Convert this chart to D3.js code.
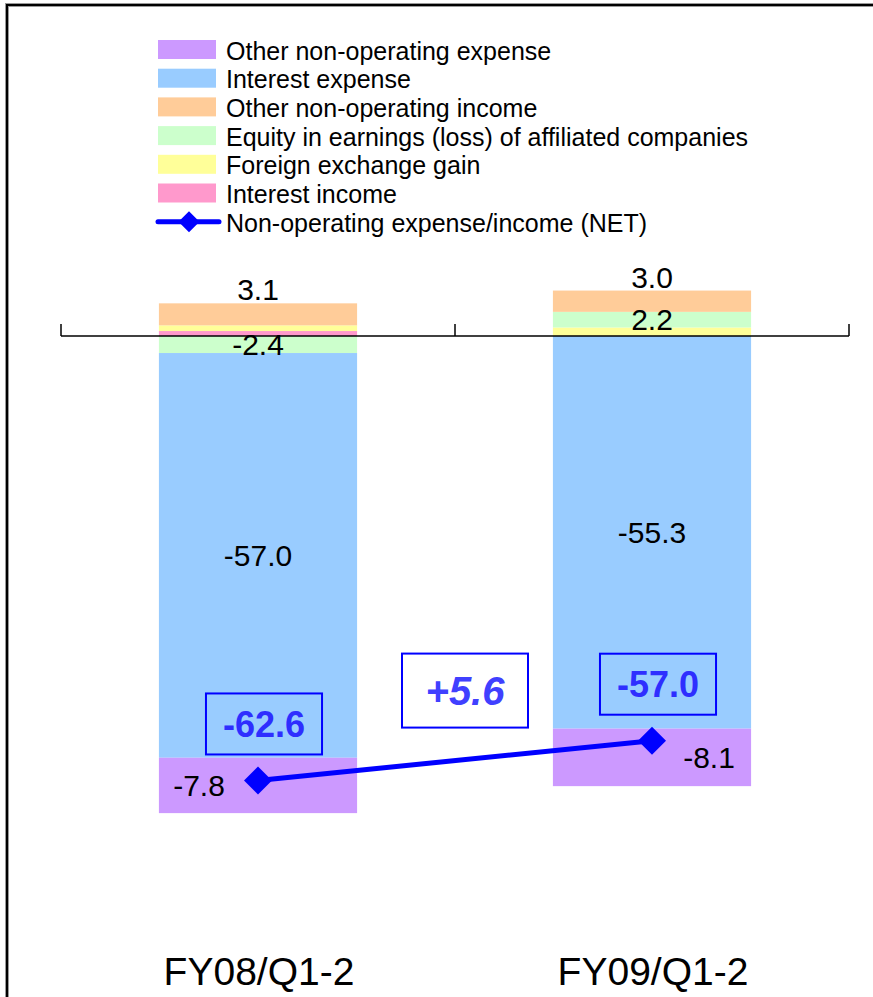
<!DOCTYPE html>
<html>
<head>
<meta charset="utf-8">
<script src="https://cdn.jsdelivr.net/npm/d3@7/dist/d3.min.js"></script>
<style>
  html, body { margin: 0; padding: 0; background: #fff; }
  svg { display: block; }
  text { font-family: "Liberation Sans", Arial, sans-serif; }
</style>
</head>
<body>
<div id="chart"></div>
<script>
// Half-year non-operating items (billion yen)
const categories = ["FY08/Q1-2", "FY09/Q1-2"];
const interestIncome = [0.7, 0.0];
const fxGain = [0.8, 1.2];
const equityEarnings = [-2.4, 2.2];
const otherIncome = [3.1, 3.0];
const interestExpense = [-57.0, -55.3];
const otherExpense = [-7.8, -8.1];
const netTotal = [-62.6, -57.0];
const changeLabel = "+5.6";

const seriesNames = {
  interestIncome: "Interest income",
  fxGain: "Foreign exchange gain",
  equityEarnings: "Equity in earnings (loss) of affiliated companies",
  otherIncome: "Other non-operating income",
  interestExpense: "Interest expense",
  otherExpense: "Other non-operating expense"
};
const stackKeys = ["interestIncome", "fxGain", "equityEarnings", "otherIncome", "interestExpense", "otherExpense"];
const colors = {
  interestIncome: "#FF99CC",
  fxGain: "#FFFF99",
  equityEarnings: "#CCFFCC",
  otherIncome: "#FFCC99",
  interestExpense: "#99CCFF",
  otherExpense: "#CC99FF"
};
const netName = "Non-operating expense/income (NET)";
const lineColor = "#0000FF";
const boxText = "#2E2EFF";

const rows = categories.map((c, i) => ({
  category: c,
  interestIncome: interestIncome[i],
  fxGain: fxGain[i],
  equityEarnings: equityEarnings[i],
  otherIncome: otherIncome[i],
  interestExpense: interestExpense[i],
  otherExpense: otherExpense[i],
  net: netTotal[i]
}));

const W = 873, H = 997;
const svg = d3.select("#chart").append("svg").attr("width", W).attr("height", H);

// outer frame (open on right and bottom)
svg.append("path").attr("d", `M7,${H + 5} V5 H${W + 5}`)
  .attr("fill", "none").attr("stroke", "#999").attr("stroke-width", 4);
svg.append("path").attr("d", `M7,${H + 5} V5 H${W + 5}`)
  .attr("fill", "none").attr("stroke", "#000").attr("stroke-width", 2);

const x = d3.scaleBand().domain(categories).range([61, 849]).paddingInner(0).paddingOuter(0);
const barW = x.bandwidth() * 0.503;
const cx = c => x(c) + x.bandwidth() / 2;

const y = d3.scaleLinear().domain([-70, 5]).range([336 + 70 * 7.1, 336 - 5 * 7.1]);

const stacked = d3.stack().keys(stackKeys).offset(d3.stackOffsetDiverging)(rows);

// bars
const g = svg.append("g");
stacked.forEach(s => {
  g.selectAll(null).data(s).join("rect")
    .attr("x", d => cx(d.data.category) - barW / 2)
    .attr("width", barW)
    .attr("y", d => y(Math.max(d[0], d[1])))
    .attr("height", d => Math.abs(y(d[0]) - y(d[1])))
    .attr("fill", colors[s.key]);
});

// category axis at zero with upward tick marks at category boundaries
const axisG = svg.append("g").attr("transform", `translate(0,${y(0)})`);
axisG.append("line").attr("x1", 61).attr("x2", 849).attr("stroke", "#000").attr("stroke-width", 1.5);
const bounds = categories.map(c => x(c)).concat([x(categories[categories.length - 1]) + x.bandwidth()]);
axisG.selectAll(null).data(bounds).join("line")
  .attr("x1", d => d).attr("x2", d => d).attr("y1", -12).attr("y2", 0)
  .attr("stroke", "#000").attr("stroke-width", 1.5);

// category labels
svg.selectAll(null).data(categories).join("text")
  .attr("x", d => cx(d) + 1).attr("y", 985)
  .attr("text-anchor", "middle").attr("font-size", 39).attr("fill", "#000")
  .text(d => d);

// segment value labels (plain hyphen for negatives)
const lab = svg.append("g").attr("font-size", 30).attr("fill", "#000").attr("text-anchor", "middle");
const byKey = {};
stacked.forEach(s => byKey[s.key] = s);
const fmt = d3.formatLocale({ decimal: ".", thousands: ",", grouping: [3], currency: ["", ""], minus: "-" }).format(".1f");

rows.forEach((r, i) => {
  const c = cx(r.category);
  const topPos = d3.max(stacked, s => Math.max(s[i][0], s[i][1]));
  // other income label sits above the column
  lab.append("text").attr("x", c).attr("y", y(topPos) - 3).text(fmt(r.otherIncome));
  // equity label at its segment middle
  const eq = byKey.equityEarnings[i];
  lab.append("text").attr("x", c).attr("y", y((eq[0] + eq[1]) / 2)).attr("dy", "0.36em").text(fmt(r.equityEarnings));
  const ie = byKey.interestExpense[i];
  lab.append("text").attr("x", c).attr("y", y((ie[0] + ie[1]) / 2)).attr("dy", "0.36em").text(fmt(r.interestExpense));
  const oe = byKey.otherExpense[i];
  lab.append("text").attr("x", c + (i === 0 ? -59 : 57)).attr("y", y((oe[0] + oe[1]) / 2)).attr("dy", "0.36em").text(fmt(r.otherExpense));
});

// NET line
const line = d3.line().x(d => cx(d.category)).y(d => y(d.net));
svg.append("path").datum(rows).attr("d", line)
  .attr("fill", "none").attr("stroke", lineColor).attr("stroke-width", 5);
const diamond = (px, py, r) => `M${px},${py - r} L${px + r},${py} L${px},${py + r} L${px - r},${py} Z`;
svg.selectAll(null).data(rows).join("path")
  .attr("d", d => diamond(cx(d.category), y(d.net), 14))
  .attr("fill", lineColor);

// NET value boxes
rows.forEach(r => {
  const bx = cx(r.category) + 6;
  const bottom = y(r.net) - 26;
  const grp = svg.append("g");
  const rect = grp.append("rect");
  const t = grp.append("text").attr("x", bx).attr("y", bottom - 30.5).attr("dy", "0.36em")
    .attr("text-anchor", "middle").attr("font-size", 36).attr("font-weight", "bold")
    .attr("fill", boxText).text(fmt(r.net));
  const bb = t.node().getBBox();
  const bw = bb.width + 34;
  rect.attr("x", bx - bw / 2).attr("y", bottom - 61).attr("width", bw).attr("height", 61)
    .attr("fill", "none").attr("stroke", lineColor).attr("stroke-width", 2);
});

// change box between the columns
{
  const mx = (cx(categories[0]) + cx(categories[1])) / 2 + 10;
  const my = y(d3.mean(netTotal)) - 70;
  svg.append("rect").attr("x", mx - 63).attr("y", my - 37).attr("width", 126).attr("height", 74)
    .attr("fill", "#fff").attr("stroke", lineColor).attr("stroke-width", 2);
  svg.append("text").attr("x", mx).attr("y", my).attr("dy", "0.36em")
    .attr("text-anchor", "middle").attr("font-size", 40).attr("font-weight", "bold")
    .attr("font-style", "italic").attr("fill", "#4040FF").text(changeLabel);
}

// legend
const legendKeys = ["otherExpense", "interestExpense", "otherIncome", "equityEarnings", "fxGain", "interestIncome"];
const leg = svg.append("g").attr("transform", "translate(158,40)");
const rowH = 28.7;
legendKeys.forEach((k, i) => {
  const gy = i * rowH;
  leg.append("rect").attr("x", 0).attr("y", gy).attr("width", 58).attr("height", 19).attr("fill", colors[k]);
  leg.append("text").attr("x", 68).attr("y", gy + 19.5).attr("font-size", 25).attr("fill", "#000").text(seriesNames[k]);
});
{
  const gy = legendKeys.length * rowH + 9.5;
  leg.append("line").attr("x1", 0).attr("x2", 61).attr("y1", gy).attr("y2", gy)
    .attr("stroke", lineColor).attr("stroke-width", 5).attr("stroke-linecap", "round");
  leg.append("path").attr("d", diamond(31, gy, 10.5)).attr("fill", lineColor);
  leg.append("text").attr("x", 68).attr("y", gy + 10).attr("font-size", 25).attr("fill", "#000").text(netName);
}
</script>
</body>
</html>
